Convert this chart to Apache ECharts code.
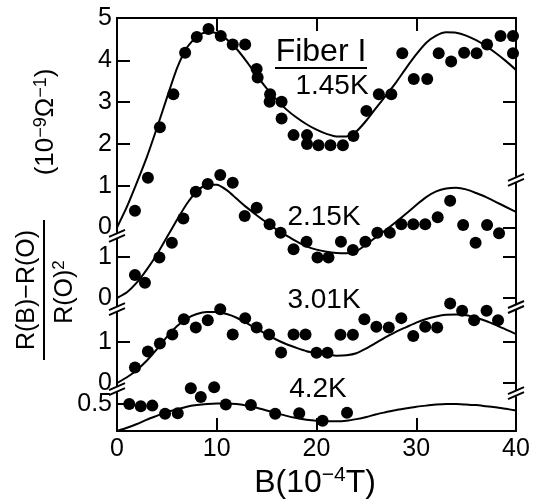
<!DOCTYPE html>
<html><head><meta charset="utf-8">
<script src="https://cdn.jsdelivr.net/npm/echarts@6/dist/echarts.min.js"></script>
<style>html,body{margin:0;padding:0;background:#fff}#c{width:537px;height:499px}</style>
</head><body><div id="c"></div>
<script>
// ---------- data ----------
const curveB = [0,1,2,3,4,5,6,7,8,9,10,11,12,13,14,15,16,17,18,19,20,21,22,23,24,25,26,27,28,29,30,31,32,33,34,35,36,37,38,39,40];
const curve145 = [0,0.5,1.08,1.69,2.38,3.1,3.8,4.3,4.57,4.68,4.65,4.5,4.27,3.97,3.64,3.33,3.06,2.82,2.63,2.47,2.34,2.24,2.18,2.18,2.3,2.56,2.87,3.17,3.48,3.82,4.14,4.42,4.59,4.67,4.66,4.59,4.48,4.34,4.17,3.98,3.77];
const curve215 = [0,0.14,0.38,0.7,1.06,1.48,1.9,2.3,2.6,2.76,2.76,2.63,2.42,2.21,2.02,1.84,1.67,1.52,1.38,1.26,1.18,1.13,1.1,1.09,1.14,1.31,1.49,1.67,1.86,2.06,2.27,2.46,2.6,2.67,2.69,2.65,2.56,2.46,2.34,2.22,2.1];
const curve301 = [0,0.14,0.32,0.55,0.83,1.13,1.39,1.58,1.69,1.74,1.74,1.69,1.6,1.47,1.33,1.19,1.06,0.95,0.86,0.78,0.73,0.69,0.67,0.68,0.73,0.85,0.99,1.13,1.26,1.37,1.48,1.57,1.63,1.67,1.68,1.66,1.6,1.52,1.42,1.31,1.2];
const curve42 = [0,0.06,0.13,0.21,0.28,0.35,0.4,0.45,0.48,0.5,0.51,0.51,0.5,0.47,0.43,0.38,0.33,0.28,0.24,0.21,0.19,0.18,0.18,0.19,0.22,0.26,0.31,0.35,0.39,0.42,0.45,0.47,0.49,0.5,0.5,0.49,0.48,0.46,0.44,0.41,0.38];

const dots145 = [[1.8,0.40],[3.1,1.19],[4.3,2.40],[5.65,3.19],[6.83,4.18],[8.0,4.56],[9.17,4.75],[10.4,4.58],[11.6,4.38],[12.85,4.38],[14.0,3.79],[14.1,3.59],[15.35,3.19],[15.3,3.01],[16.5,3.01],[16.5,2.61],[17.7,2.21],[19.05,2.21],[19.05,2.0],[20.2,1.97],[21.4,1.97],[22.65,1.97],[23.7,2.19],[25.0,2.79],[26.25,3.19],[27.5,3.19],[28.6,4.17],[29.75,3.55],[31.1,3.55],[32.25,4.17],[33.5,3.97],[34.8,4.18],[36.05,4.17],[37.1,4.38],[38.45,4.58],[39.7,4.58],[39.7,4.17]];
const dots215 = [[1.8,0.56],[2.8,0.37],[4.25,0.99],[5.5,1.35],[6.65,1.94],[7.9,2.59],[9.1,2.78],[10.35,3.0],[11.6,2.81],[12.8,2.0],[14.0,2.2],[15.3,1.8],[16.4,1.59],[17.7,1.19],[19.0,1.37],[20.1,0.99],[21.2,0.99],[22.45,1.37],[23.65,1.17],[24.9,1.37],[26.1,1.59],[27.35,1.59],[28.5,1.8],[29.7,1.8],[30.9,1.8],[32.15,1.97],[33.4,2.37],[34.7,1.78],[35.95,1.35],[37.1,1.78],[38.3,1.58]];
const dots301 = [[1.8,0.38],[3.1,0.77],[4.3,0.97],[5.55,1.19],[6.7,1.56],[7.9,1.36],[9.1,1.54],[10.35,1.81],[11.6,1.19],[12.85,1.59],[14.0,1.36],[15.25,1.19],[16.45,0.75],[17.7,1.19],[18.9,1.19],[20.0,0.74],[21.1,0.74],[22.4,1.18],[23.65,1.18],[24.8,1.56],[26.0,1.38],[27.25,1.36],[28.5,1.59],[29.7,1.15],[30.9,1.38],[32.1,1.36],[33.4,1.95],[34.6,1.77],[35.8,1.54],[37.05,1.77],[38.2,1.54]];
const dots42 = [[1.23,0.50],[2.38,0.46],[3.54,0.47],[4.82,0.32],[6.09,0.33],[7.4,0.79],[8.4,0.63],[9.74,0.81],[10.91,0.49],[13.42,0.48],[15.86,0.32],[18.27,0.33],[20.61,0.19],[23.06,0.34]];

const xTicks = [0,10,20,30,40];
const leftLabels = [[0,1,2,3,4,5],[0,1],[0,1],[0.5]];
const leftTicks = [[1,2,3,4],[1],[1],[0.5]];
const rightTicks = [[0,2,3],[0,1],[0,1]];
const panelLabels = ['1.45K','2.15K','3.01K','4.2K'];
const sampleName = 'Fiber I';

// ---------- layout ----------
const FONT = 'Liberation Sans';
const TOP = 18, BOT = 431, LEFT = 117, RIGHTPX = 516;
const panels = [{z:227.5,p:41.8},{z:298,p:41},{z:383,p:40.8},{z:431,p:54}];
const leftBreaks = [[0,-0.2],[0,-0.27],[0,-0.15]];
const rightBreaks = [[40,1.14],[40,-0.22],[40,-0.25]];

function range(k){const {z,p}=panels[k];return {min:-(BOT-z)/p, max:(z-TOP)/p};}
const black = '#000';

const yAxes = [];
for (let k=0;k<4;k++){
  const r = range(k);
  yAxes.push({type:'value', position:'left', min:r.min, max:r.max, splitLine:{show:false},
    axisLine:{show:k===0, onZero:false, lineStyle:{color:black,width:2}},
    axisTick:{show:true, inside:true, length:13, customValues:leftTicks[k], lineStyle:{color:black,width:2}},
    axisLabel:{show:true, customValues:leftLabels[k], margin:5, color:black, fontSize:25, fontFamily:FONT}
  });
}
for (let k=0;k<3;k++){
  const r = range(k);
  yAxes.push({type:'value', position:'right', min:r.min, max:r.max, splitLine:{show:false},
    axisLine:{show:k===0, onZero:false, lineStyle:{color:black,width:2}},
    axisTick:{show:true, inside:true, length:13, customValues:rightTicks[k], lineStyle:{color:black,width:2}},
    axisLabel:{show:false}
  });
}

function breakSeries(yIdx, pts){
  return {type:'custom', xAxisIndex:0, yAxisIndex:yIdx, data:pts, silent:true, z:5, clip:false,
    renderItem:(params, api)=>{
      const p = api.coord([api.value(0), api.value(1)]); const x=p[0], y=p[1];
      return {type:'group', children:[
        {type:'rect', shape:{x:x-3,y:y-3,width:6,height:6}, style:{fill:'#fff'}},
        {type:'line', shape:{x1:x-8,y1:y+1,x2:x+8,y2:y-6}, style:{stroke:black,lineWidth:2}},
        {type:'line', shape:{x1:x-8,y1:y+6,x2:x+8,y2:y-1}, style:{stroke:black,lineWidth:2}}
      ]};
    }};
}

const curves = [curve145,curve215,curve301,curve42];
const dots = [dots145,dots215,dots301,dots42];
const series = [];
for (let k=0;k<4;k++){
  series.push({type:'line', xAxisIndex:0, yAxisIndex:k, data:curveB.map((b,i)=>[b,curves[k][i]]),
    showSymbol:false, smooth:0.2, lineStyle:{color:black,width:2}, silent:true, z:3});
  series.push({type:'scatter', xAxisIndex:0, yAxisIndex:k, data:dots[k], symbol:'circle', symbolSize:12,
    itemStyle:{color:black, opacity:1}, silent:true, z:4});
}
for (let k=0;k<3;k++){
  series.push(breakSeries(k, [leftBreaks[k]]));
  series.push(breakSeries(4+k, [rightBreaks[k]]));
}

const labelPos = [[332,86],[324,217],[324,300],[318,389]];
const graphics = [
  {type:'text', x:321, y:52, style:{text:sampleName, font:'32px '+FONT, fill:black, align:'center', verticalAlign:'middle'}},
  {type:'line', shape:{x1:275,y1:68,x2:367,y2:68}, style:{stroke:black,lineWidth:2}},
  {type:'text', x:315, y:483, style:{text:'{a|B(10}{s|−4}{a|T)}', fill:black, align:'center', verticalAlign:'middle',
    rich:{a:{fontSize:32,fontFamily:FONT,lineHeight:36,fill:black}, s:{fontSize:21,fontFamily:FONT,verticalAlign:'top',lineHeight:20,fill:black}}}},
  {type:'text', x:27, y:290, rotation:Math.PI/2, style:{text:'R(B)−R(O)', font:'25px '+FONT, fill:black, align:'center', verticalAlign:'middle'}},
  {type:'line', shape:{x1:44,y1:220,x2:44,y2:360}, style:{stroke:black,lineWidth:2}},
  {type:'text', x:65, y:292, rotation:Math.PI/2, style:{text:'{a|R(O)}{s|2}', align:'center', verticalAlign:'middle',
    rich:{a:{fontSize:25,fontFamily:FONT,lineHeight:28,fill:black}, s:{fontSize:17,fontFamily:FONT,verticalAlign:'top',lineHeight:17,fill:black}}}},
  {type:'text', x:46, y:122, rotation:Math.PI/2, style:{text:'{a|(10}{s|−9}{a|Ω}{s|−1}{a|)}', align:'center', verticalAlign:'middle',
    rich:{a:{fontSize:26,fontFamily:FONT,lineHeight:28,fill:black}, s:{fontSize:18,fontFamily:FONT,verticalAlign:'top',lineHeight:17,fill:black}}}}
];
panelLabels.forEach((t,i)=>{
  graphics.push({type:'text', x:labelPos[i][0], y:labelPos[i][1], style:{text:t, font:'28px '+FONT, fill:black, align:'center', verticalAlign:'middle'}});
});

const chart = echarts.init(document.getElementById('c'), null, {renderer:'canvas'});
chart.setOption({
  animation:false,
  backgroundColor:'#fff',
  grid:{left:LEFT, right:537-RIGHTPX, top:TOP, bottom:499-BOT, containLabel:false},
  xAxis:[
    {type:'value', position:'bottom', min:xTicks[0], max:xTicks[xTicks.length-1], interval:10, splitLine:{show:false},
      axisLine:{onZero:false, lineStyle:{color:black,width:2}},
      axisTick:{inside:true, length:13, lineStyle:{color:black,width:2}},
      axisLabel:{margin:6, color:black, fontSize:25, fontFamily:FONT}},
    {type:'value', position:'top', min:xTicks[0], max:xTicks[xTicks.length-1], interval:10, splitLine:{show:false},
      axisLine:{onZero:false, lineStyle:{color:black,width:2}},
      axisTick:{inside:true, length:13, lineStyle:{color:black,width:2}},
      axisLabel:{show:false}}
  ],
  yAxis: yAxes,
  series: series,
  graphic: graphics
});
</script></body></html>
